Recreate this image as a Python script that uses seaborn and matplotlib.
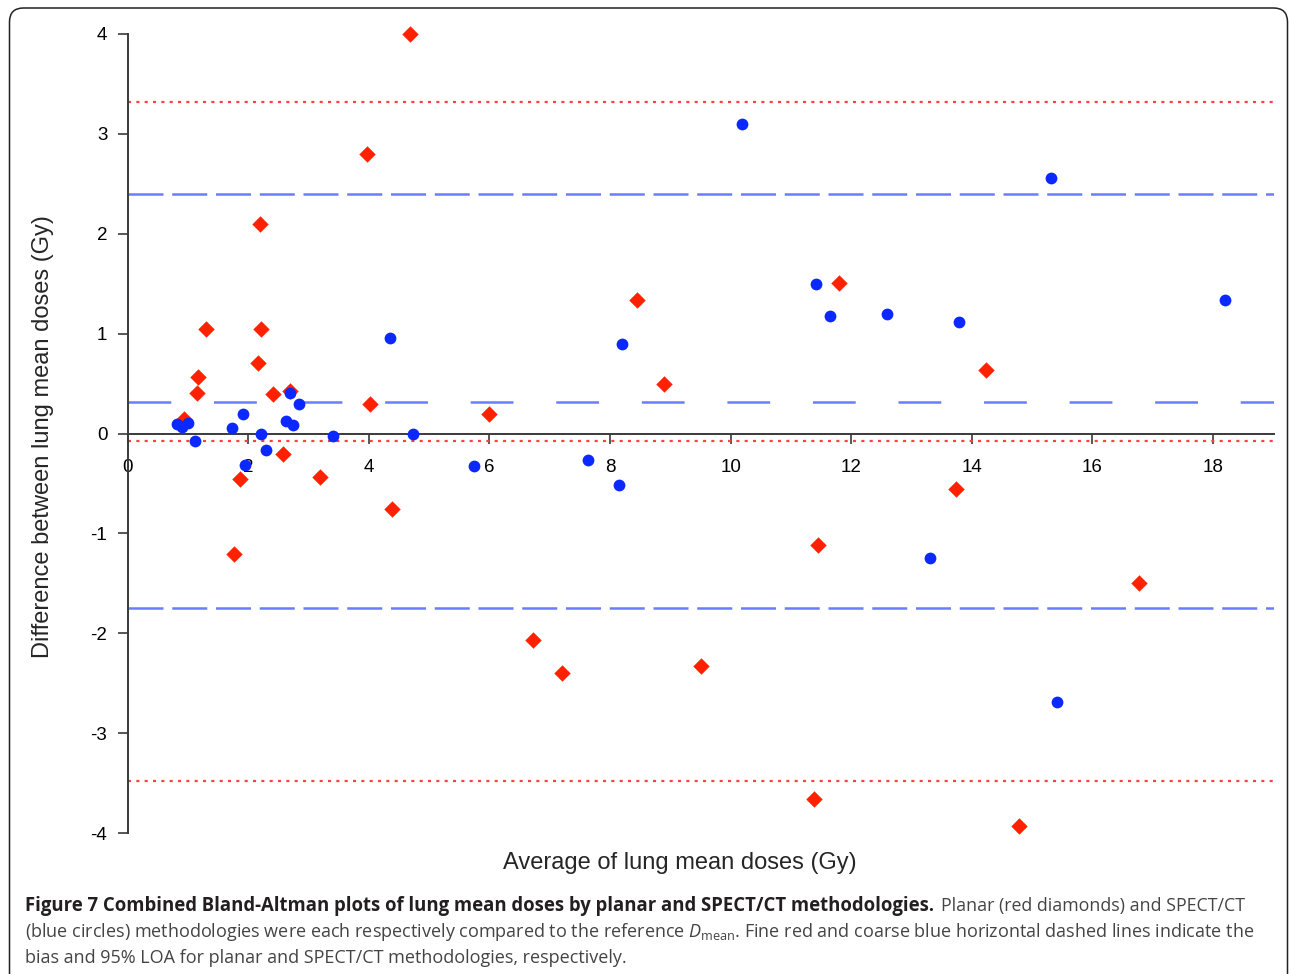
import matplotlib
matplotlib.use("Agg")
import matplotlib.pyplot as plt
import matplotlib.patches as mpatches
from matplotlib.transforms import IdentityTransform
import seaborn as sns

# planar (red diamonds): average vs difference of lung mean doses (Gy)
planar_avg = [4.69, 3.97, 2.20, 1.30, 2.22, 2.17, 1.17, 1.16, 2.41, 2.69,
              4.02, 0.94, 2.58, 1.87, 3.19, 4.38, 1.77, 6.00, 8.44, 8.90,
              6.72, 7.21, 9.51, 11.39, 11.45, 11.80, 13.73, 14.24, 14.79, 16.77]
planar_diff = [4.00, 2.80, 2.10, 1.05, 1.05, 0.71, 0.57, 0.41, 0.40, 0.43,
               0.30, 0.15, -0.21, -0.46, -0.44, -0.76, -1.21, 0.20, 1.34, 0.50,
               -2.07, -2.40, -2.33, -3.66, -1.12, 1.51, -0.56, 0.64, -3.93, -1.50]

# SPECT/CT (blue circles)
spect_avg = [4.35, 2.69, 2.85, 1.92, 0.82, 0.90, 1.01, 2.62, 2.75, 1.74,
             2.21, 3.41, 4.74, 1.12, 2.29, 1.94, 5.75, 7.64, 8.15, 8.20,
             10.19, 11.41, 11.64, 12.60, 13.79, 13.31, 15.32, 15.41, 18.20]
spect_diff = [0.96, 0.41, 0.30, 0.20, 0.10, 0.07, 0.11, 0.13, 0.09, 0.06,
              -0.01, -0.03, -0.01, -0.08, -0.17, -0.32, -0.33, -0.27, -0.52, 0.90,
              3.10, 1.50, 1.18, 1.20, 1.12, -1.25, 2.56, -2.69, 1.34]

# bias and 95% limits of agreement
planar_lines = [3.32, -0.08, -3.48]
spect_bias = 0.32
spect_loa = [2.40, -1.75]

x_ticks = [0, 2, 4, 6, 8, 10, 12, 14, 16, 18]
y_ticks = [-4, -3, -2, -1, 0, 1, 2, 3, 4]

W, H = 1290, 974

sns.set_style("ticks")
plt.rcParams["font.family"] = ["Liberation Sans", "DejaVu Sans"]
plt.rcParams["axes.unicode_minus"] = False
plt.rcParams["lines.scale_dashes"] = False
plt.rcParams["mathtext.fontset"] = "custom"
plt.rcParams["mathtext.rm"] = "Open Sans"
plt.rcParams["mathtext.it"] = "Open Sans:italic"

fig = plt.figure(figsize=(W / 100, H / 100), dpi=100)
ax = fig.add_axes([127.5 / W, 1 - 833 / H, (1274 - 127.5) / W, (833 - 34) / H])

# reference lines
for y in planar_lines:
    ax.axhline(y, color="#ff4040", lw=1.6, dashes=(2.2, 3.8), zorder=1)
ax.axhline(spect_bias, color="#6c7cff", lw=1.8, dashes=(30.8, 30.8), zorder=1)
for y in spect_loa:
    ax.axhline(y, color="#6c7cff", lw=1.8, dashes=(25.2, 6.3), zorder=1)

# points
sns.scatterplot(x=planar_avg, y=planar_diff, marker="D", color="#ff2200",
                s=70, linewidth=0, clip_on=False, zorder=3, legend=False, ax=ax)
sns.scatterplot(x=spect_avg, y=spect_diff, marker="o", color="#0a28ff",
                s=72, linewidth=0, clip_on=False, zorder=4, legend=False, ax=ax)

ax.set_xlim(0, 19.01)
ax.set_ylim(-4, 4)
ax.set_xticks(x_ticks)
ax.set_yticks(y_ticks)
ax.set_xticklabels([str(t) for t in x_ticks])
ax.set_yticklabels([str(t) for t in y_ticks])

sns.despine(ax=ax)
ax.spines["bottom"].set_position(("data", 0))
for sp in ("left", "bottom"):
    ax.spines[sp].set_color("#3a3a3a")
    ax.spines[sp].set_linewidth(1.4)
ax.tick_params(axis="both", colors="#3a3a3a", labelcolor="black",
               labelsize=13.5, length=7.5, width=1.2, direction="out")
ax.tick_params(axis="x", pad=11)
ax.tick_params(axis="y", pad=7)

ax.set_xlabel("Average of lung mean doses (Gy)", fontsize=17)
ax.set_ylabel("Difference between lung mean doses (Gy)", fontsize=17)
ax.xaxis.set_label_coords((680 - 127.5) / 1146.5, -0.024)
ax.yaxis.set_label_coords(-0.064, (833 - 437) / 799)

# rounded frame around the figure panel
frame = mpatches.FancyBboxPatch((9.5, -30), 1278, H - 8 + 30,
                                boxstyle="round,pad=0,rounding_size=14",
                                transform=IdentityTransform(),
                                fill=False, ec="#222222", lw=1.1)
fig.patches.append(frame)

# caption
renderer = fig.canvas.get_renderer()


def fit_text(x_px, y_px, s, width_px, **kw):
    t = fig.text(x_px / W, 1 - y_px / H, s, va="baseline", **kw)
    w = t.get_window_extent(renderer).width
    t.set_fontsize(t.get_fontsize() * width_px / w)
    return t


cap_font = ["Open Sans", "DejaVu Sans"]
fit_text(25, 911,
         "Figure 7 Combined Bland-Altman plots of lung mean doses by planar "
         "and SPECT/CT methodologies.",
         933 - 25, family=cap_font, fontweight="bold", color="#231f20", fontsize=12)
fit_text(941, 911, "Planar (red diamonds) and SPECT/CT", 1244 - 941,
         family=cap_font, color="#444444", fontsize=12)
fit_text(25, 937,
         r"(blue circles) methodologies were each respectively compared to the "
         r"reference $D_{\mathrm{mean}}$. Fine red and coarse blue horizontal "
         r"dashed lines indicate the",
         1252 - 25, family=cap_font, color="#444444", fontsize=12)
fit_text(25, 963,
         "bias and 95% LOA for planar and SPECT/CT methodologies, respectively.",
         624 - 25, family=cap_font, color="#444444", fontsize=12)

fig.savefig("out.png", dpi=100)
